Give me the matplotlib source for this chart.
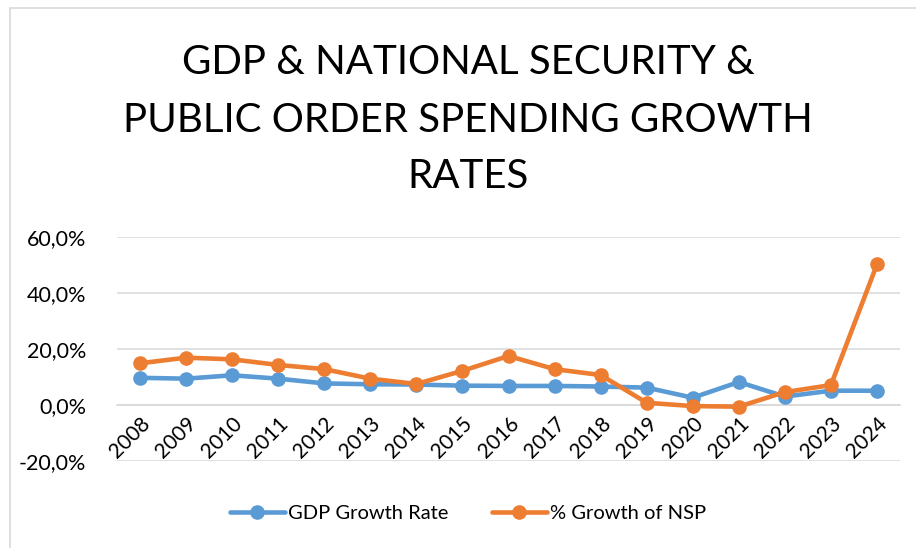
import matplotlib
matplotlib.use("Agg")
import matplotlib.pyplot as plt
from matplotlib.patches import Rectangle
from matplotlib.ticker import FuncFormatter

years = ["2008", "2009", "2010", "2011", "2012", "2013", "2014", "2015", "2016",
         "2017", "2018", "2019", "2020", "2021", "2022", "2023", "2024"]
gdp_growth = [9.6, 9.3, 10.5, 9.3, 7.6, 7.3, 7.2, 6.8, 6.7,
              6.7, 6.5, 6.1, 2.5, 8.1, 2.9, 5.0, 5.0]
nsp_growth = [14.8, 16.8, 16.2, 14.2, 12.7, 9.3, 7.4, 12.1, 17.4,
              12.7, 10.6, 0.7, -0.5, -0.7, 4.5, 7.0, 50.1]

plt.rcParams['font.family'] = ['Lato', 'DejaVu Sans']

fig = plt.figure(figsize=(9.16, 5.48), dpi=100)
fig.patch.set_facecolor('white')

# chart border
fig.patches.append(Rectangle((10 / 916, -0.1), 1.2, 1 - 7.5 / 548 + 0.1,
                             transform=fig.transFigure, fill=False,
                             edgecolor='#D9D9D9', linewidth=1.2))

ax = fig.add_axes([117 / 916, 1 - 460.7 / 548, 783 / 916, 224 / 548])

x = list(range(len(years)))
ax.plot(x, [v / 100 for v in gdp_growth], color='#5B9BD5', lw=3.3,
        marker='o', ms=9.5, label='GDP Growth Rate', solid_capstyle='round',
        solid_joinstyle='round', zorder=3)
ax.plot(x, [v / 100 for v in nsp_growth], color='#ED7D31', lw=3.3,
        marker='o', ms=9.5, label='% Growth of NSP', solid_capstyle='round',
        solid_joinstyle='round', zorder=4)

ax.set_xlim(-0.5, len(years) - 0.5)
ax.set_ylim(-0.2, 0.6)
ax.set_yticks([-0.2, 0.0, 0.2, 0.4, 0.6])
ax.yaxis.set_major_formatter(FuncFormatter(lambda v, p: f"{v * 100:.1f}%".replace('.', ',')))
ax.grid(axis='y', color='#D9D9D9', linewidth=1.1)
ax.set_axisbelow(True)

for s in ['top', 'right', 'left']:
    ax.spines[s].set_visible(False)
ax.spines['bottom'].set_position(('data', 0))
ax.spines['bottom'].set_color('#D9D9D9')
ax.spines['bottom'].set_linewidth(1.1)

ax.set_xticks(x)
ax.set_xticklabels(years, rotation=45, ha='right', rotation_mode='anchor')
ax.tick_params(axis='x', length=0, labelsize=15, pad=6)
ax.tick_params(axis='y', length=0, labelsize=15.5, pad=22)

title_lines = ["GDP & NATIONAL SECURITY &", "PUBLIC ORDER SPENDING GROWTH", "RATES"]
for line, ypx in zip(title_lines, [62, 120, 177]):
    fig.text(468 / 916, 1 - ypx / 548, line, ha='center', va='center',
             fontsize=29)

fig.legend(loc='center', bbox_to_anchor=(468 / 916, 1 - 513 / 548), ncol=2,
           frameon=False, fontsize=14.5, handlelength=2.7, columnspacing=2.2,
           handletextpad=0.15)

fig.savefig('out.png', dpi=100)
